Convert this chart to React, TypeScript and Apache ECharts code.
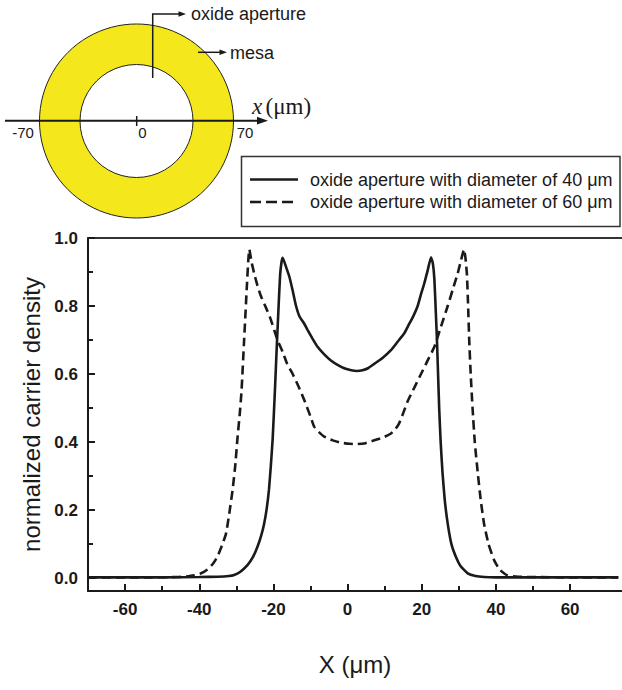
import React, { useEffect, useRef } from "react";
import * as echarts from "echarts";

// ---- data ----
const X40 = [-70, -50, -40, -35, -32, -30.6, -29, -27, -25.5, -24.3, -23.3, -22.5, -21.8, -21.2, -20.7, -20.2, -19.6, -19.1, -18.6, -18.2, -17.8, -17.5, -16.6, -15.7, -14.8, -13.9, -13, -11.8, -10.8, -9.5, -8.1, -6.3, -4.5, -2.7, -0.9, 1, 2.5, 4, 5.5, 7.2, 9.5, 11.7, 13.5, 15.3, 16.5, 17.5, 18.9, 19.8, 20.7, 21.6, 22.5, 23, 23.4, 23.8, 24.1, 24.4, 24.7, 25.1, 25.6, 26.2, 27, 28, 29.2, 30.5, 32.4, 34.5, 36.8, 40, 50, 60, 73];
const Y40 = [0.002, 0.002, 0.003, 0.004, 0.006, 0.009, 0.018, 0.038, 0.062, 0.092, 0.125, 0.16, 0.205, 0.26, 0.33, 0.41, 0.55, 0.68, 0.8, 0.89, 0.93, 0.942, 0.915, 0.886, 0.845, 0.8, 0.77, 0.75, 0.73, 0.705, 0.68, 0.658, 0.64, 0.627, 0.617, 0.611, 0.609, 0.611, 0.617, 0.63, 0.648, 0.67, 0.695, 0.72, 0.745, 0.765, 0.8, 0.835, 0.867, 0.905, 0.943, 0.925, 0.88, 0.78, 0.7, 0.6, 0.5, 0.4, 0.31, 0.23, 0.16, 0.1, 0.063, 0.035, 0.014, 0.006, 0.003, 0.002, 0.002, 0.002, 0.002];

const X60 = [-70, -55, -46, -43, -41.4, -39.5, -37.8, -36.3, -35.1, -33.9, -32.8, -31.9, -31, -30.3, -29.7, -29.1, -28.6, -27.9, -27.2, -26.8, -26.5, -25.9, -25.2, -24.3, -23.4, -22, -20.7, -18.9, -17.5, -16.3, -14.8, -13.5, -12.3, -11.2, -10, -9, -7.8, -6.3, -4, -1.8, 0.5, 2.5, 4.5, 7.2, 9.5, 11.7, 13, 13.9, 15, 16.2, 18, 19.8, 21.6, 23.4, 25.2, 27, 28.4, 29.7, 30.6, 31.4, 31.8, 32.2, 32.5, 32.8, 33.2, 33.7, 34.3, 35.1, 35.9, 36.8, 38, 39.5, 41, 43.1, 46, 50, 60, 73];
const Y60 = [0.002, 0.002, 0.003, 0.005, 0.008, 0.014, 0.025, 0.042, 0.063, 0.095, 0.13, 0.19, 0.26, 0.33, 0.41, 0.48, 0.55, 0.7, 0.85, 0.93, 0.967, 0.93, 0.896, 0.86, 0.83, 0.795, 0.76, 0.7, 0.665, 0.63, 0.6, 0.57, 0.54, 0.51, 0.475, 0.445, 0.43, 0.416, 0.405, 0.398, 0.395, 0.394, 0.396, 0.405, 0.413, 0.425, 0.44, 0.455, 0.485, 0.52, 0.56, 0.6, 0.64, 0.68, 0.74, 0.8, 0.85, 0.896, 0.935, 0.967, 0.94, 0.89, 0.8, 0.7, 0.6, 0.5, 0.4, 0.31, 0.23, 0.16, 0.1, 0.053, 0.025, 0.008, 0.004, 0.003, 0.002, 0.002];

const SERIES_NAMES = ["oxide aperture with diameter of 40 \u03bcm", "oxide aperture with diameter of 60 \u03bcm"];
const X_MAJOR = [-60, -40, -20, 0, 20, 40, 60];
const X_MINOR = [-50, -30, -10, 10, 30, 50];
const Y_MAJOR = [0, 0.2, 0.4, 0.6, 0.8, 1.0];
const Y_MINOR = [0.1, 0.3, 0.5, 0.7, 0.9];
const DIAGRAM_LABELS = ["-70", "0", "70"];

const INK = "#1a1a1a";
const SANS = "'Liberation Sans', Arial, Helvetica, sans-serif";
const SERIF = "'Liberation Serif', 'Times New Roman', serif";

export default function App() {
  const ref = useRef<HTMLDivElement>(null);

  useEffect(() => {
    document.body.style.margin = "0";
    const chart = echarts.init(ref.current!, null, { renderer: "svg" });
    const xRange = { min: -70, max: 74 };
    const yRange = { min: -0.038, max: 1.0 };

    const option: any = {
      animation: false,
      backgroundColor: "#ffffff",
      grid: { left: 88, right: 0, top: 238, bottom: 99, containLabel: false },
      xAxis: [
        {
          type: "value",
          position: "bottom",
          ...xRange,
          name: "X (\u03bcm)",
          nameLocation: "middle",
          nameGap: 61,
          nameTextStyle: { fontFamily: SANS, fontSize: 24, color: INK },
          axisLine: { show: true, onZero: false, lineStyle: { color: INK, width: 2 } },
          axisTick: { show: true, inside: true, length: 7, customValues: X_MAJOR, lineStyle: { color: INK, width: 2 } },
          axisLabel: {
            show: true,
            customValues: X_MAJOR,
            margin: 10,
            fontFamily: SANS,
            fontWeight: "bold",
            fontSize: 17,
            color: INK,
            formatter: (v: number) => String(v),
          },
          splitLine: { show: false },
        },
        {
          type: "value",
          position: "bottom",
          ...xRange,
          axisLine: { show: false, onZero: false },
          axisTick: { show: true, inside: true, length: 5, customValues: X_MINOR, lineStyle: { color: INK, width: 2 } },
          axisLabel: { show: false },
          splitLine: { show: false },
        },
        {
          type: "value",
          position: "top",
          ...xRange,
          axisLine: { show: true, onZero: false, lineStyle: { color: "#333333", width: 2 } },
          axisTick: { show: false },
          axisLabel: { show: false },
          splitLine: { show: false },
        },
      ],
      yAxis: [
        {
          type: "value",
          position: "left",
          ...yRange,
          name: "normalized carrier density",
          nameLocation: "middle",
          nameGap: 45,
          nameRotate: 90,
          nameTextStyle: { fontFamily: SANS, fontSize: 24, color: INK },
          axisLine: { show: true, onZero: false, lineStyle: { color: INK, width: 2 } },
          axisTick: { show: true, inside: true, length: 7, customValues: Y_MAJOR, lineStyle: { color: INK, width: 2 } },
          axisLabel: {
            show: true,
            customValues: Y_MAJOR,
            margin: 10,
            fontFamily: SANS,
            fontWeight: "bold",
            fontSize: 17,
            color: INK,
            formatter: (v: number) => v.toFixed(1),
          },
          splitLine: { show: false },
        },
        {
          type: "value",
          position: "left",
          ...yRange,
          axisLine: { show: false, onZero: false },
          axisTick: { show: true, inside: true, length: 5, customValues: Y_MINOR, lineStyle: { color: INK, width: 2 } },
          axisLabel: { show: false },
          splitLine: { show: false },
        },
      ],
      series: [
        {
          name: SERIES_NAMES[0],
          type: "line",
          xAxisIndex: 0,
          yAxisIndex: 0,
          data: X40.map((x, i) => [x, Y40[i]]),
          showSymbol: false,
          symbol: "none",
          smooth: 0.15,
          lineStyle: { color: INK, width: 2.6, type: "solid" },
        },
        {
          name: SERIES_NAMES[1],
          type: "line",
          xAxisIndex: 0,
          yAxisIndex: 0,
          data: X60.map((x, i) => [x, Y60[i]]),
          showSymbol: false,
          symbol: "none",
          smooth: 0.15,
          lineStyle: { color: INK, width: 2.6, type: [9, 5] },
        },
      ],
      graphic: [
        // --- schematic of the device ---
        {
          type: "ring",
          shape: { cx: 136.5, cy: 121, r: 97, r0: 56.5 },
          style: { fill: "#F4E81C", stroke: "#222222", lineWidth: 1 },
        },
        { type: "line", shape: { x1: 5, y1: 120.7, x2: 260, y2: 120.7 }, style: { stroke: INK, lineWidth: 2 } },
        { type: "polygon", shape: { points: [[268, 120.7], [257, 116.8], [257, 124.6]] }, style: { fill: INK } },
        { type: "line", shape: { x1: 136.7, y1: 116, x2: 136.7, y2: 126 }, style: { stroke: INK, lineWidth: 1.5 } },
        { type: "text", x: 23, y: 132, style: { text: DIAGRAM_LABELS[0], font: `15px ${SANS}`, fill: INK, align: "center", verticalAlign: "middle" } },
        { type: "text", x: 142.5, y: 132, style: { text: DIAGRAM_LABELS[1], font: `15px ${SANS}`, fill: INK, align: "center", verticalAlign: "middle" } },
        { type: "text", x: 245, y: 132, style: { text: DIAGRAM_LABELS[2], font: `15px ${SANS}`, fill: INK, align: "center", verticalAlign: "middle" } },
        {
          type: "text",
          x: 252,
          y: 106,
          style: {
            text: "{i|x} {n|(\u03bcm)}",
            verticalAlign: "middle",
            fill: INK,
            rich: {
              i: { fontFamily: SERIF, fontStyle: "italic", fontSize: 23, fill: INK },
              n: { fontFamily: SERIF, fontSize: 23, fill: INK },
            },
          },
        },
        // oxide aperture pointer
        { type: "polyline", shape: { points: [[152.7, 78], [152.7, 14], [180, 14]] }, style: { stroke: INK, lineWidth: 1.5, fill: "none" } },
        { type: "polygon", shape: { points: [[186, 14], [178.5, 11.3], [178.5, 16.7]] }, style: { fill: INK } },
        { type: "text", x: 191, y: 14, style: { text: "oxide aperture", font: `18px ${SANS}`, fill: INK, verticalAlign: "middle" } },
        // mesa pointer
        { type: "line", shape: { x1: 198, y1: 52.3, x2: 221, y2: 52.3 }, style: { stroke: INK, lineWidth: 1.5 } },
        { type: "polygon", shape: { points: [[227, 52.3], [219.5, 49.6], [219.5, 55]] }, style: { fill: INK } },
        { type: "text", x: 230, y: 52.5, style: { text: "mesa", font: `18px ${SANS}`, fill: INK, verticalAlign: "middle" } },
        // --- legend box ---
        { type: "rect", shape: { x: 241.5, y: 156.5, width: 378.5, height: 70 }, style: { fill: "#ffffff", stroke: "#333333", lineWidth: 1.5 } },
        { type: "line", shape: { x1: 250, y1: 179.5, x2: 298, y2: 179.5 }, style: { stroke: INK, lineWidth: 2.6 } },
        { type: "line", shape: { x1: 250, y1: 202, x2: 298, y2: 202 }, style: { stroke: INK, lineWidth: 2.6, lineDash: [11, 5] } },
        { type: "text", x: 310, y: 179.5, style: { text: SERIES_NAMES[0], font: `18px ${SANS}`, fill: INK, verticalAlign: "middle" } },
        { type: "text", x: 310, y: 202, style: { text: SERIES_NAMES[1], font: `18px ${SANS}`, fill: INK, verticalAlign: "middle" } },
      ],
    };

    chart.setOption(option);
    return () => chart.dispose();
  }, []);

  return (
    <div
      ref={ref}
      style={{ position: "absolute", left: 0, top: 0, width: 622, height: 690 }}
    />
  );
}
